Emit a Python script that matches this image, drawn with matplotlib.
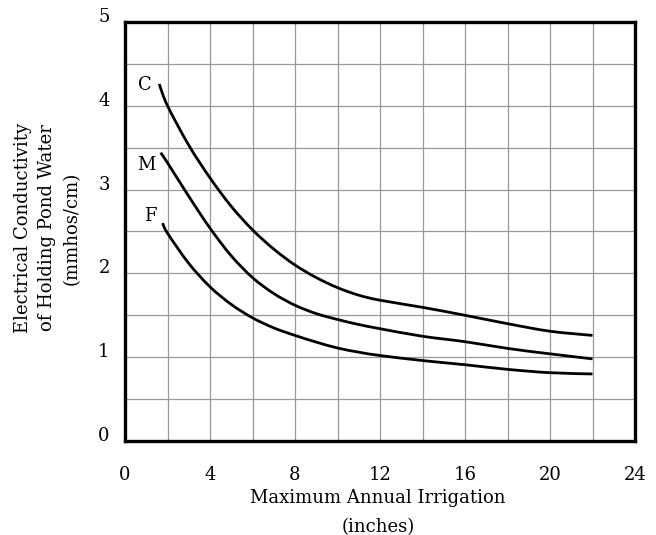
import matplotlib
matplotlib.use("Agg")
import matplotlib.pyplot as plt
import matplotlib.transforms as mtransforms
from matplotlib.path import Path
from matplotlib.patches import PathPatch
import numpy as np

# Data
x_c = [1.61, 2, 3, 4, 5, 6, 7, 8, 9, 10, 11, 12, 14, 16, 18, 20, 22]
y_c = [4.26, 4.00, 3.53, 3.14, 2.80, 2.52, 2.29, 2.10, 1.95, 1.83, 1.74, 1.68, 1.595, 1.50, 1.40, 1.31, 1.26]

x_m = [1.68, 2, 3, 4, 5, 6, 7, 8, 9, 10, 11, 12, 14, 16, 18, 20, 22]
y_m = [3.44, 3.32, 2.92, 2.54, 2.21, 1.95, 1.76, 1.62, 1.52, 1.45, 1.39, 1.34, 1.25, 1.185, 1.105, 1.04, 0.98]

x_f = [1.77, 2, 3, 4, 5, 6, 7, 8, 9, 10, 11, 12, 14, 16, 18, 20, 22]
y_f = [2.60, 2.48, 2.12, 1.84, 1.63, 1.47, 1.35, 1.26, 1.18, 1.11, 1.06, 1.02, 0.96, 0.91, 0.855, 0.815, 0.80]

curve_labels = ["C", "M", "F"]
label_x = [0.94, 1.0, 1.17]
label_y = [4.25, 3.29, 2.68]

x_ticks = [0, 4, 8, 12, 16, 20, 24]
y_ticks = [0, 1, 2, 3, 4, 5]

FONT = "DejaVu Serif"
plt.rcParams["font.family"] = [FONT]
FS = 13

fig = plt.figure(figsize=(6.56, 5.35), dpi=100)
ax = fig.add_axes([125/656, (535-441)/535, (635-125)/656, (441-22)/535])

ax.set_xlim(0, 24)
ax.set_ylim(0, 5)

ax.set_xticks(x_ticks)
ax.set_yticks(y_ticks)
ax.set_xticks(np.arange(0, 25, 2), minor=True)
ax.set_yticks(np.arange(0, 5.01, 0.5), minor=True)
ax.grid(True, which="both", color="#999999", linewidth=0.9)
ax.set_axisbelow(True)
ax.tick_params(which="both", length=0)
ax.tick_params(axis="x", pad=18, labelsize=FS)
ax.tick_params(axis="y", pad=11, labelsize=FS)

for lbl in ax.get_yticklabels():
    lbl.set_transform(lbl.get_transform() + mtransforms.ScaledTranslation(0, 5/72, fig.dpi_scale_trans))

for s in ax.spines.values():
    s.set_linewidth(2.4)
    s.set_color("black")


def smooth_path(xs, ys):
    """Catmull-Rom through the read points, expressed as cubic Bezier segments."""
    P = np.column_stack([xs, ys]).astype(float)
    n = len(P)
    verts = [P[0]]
    codes = [Path.MOVETO]
    for i in range(n - 1):
        p0 = P[i - 1] if i > 0 else P[i]
        p1 = P[i]
        p2 = P[i + 1]
        p3 = P[i + 2] if i + 2 < n else P[i + 1]
        c1 = p1 + (p2 - p0) / 6.0
        c2 = p2 - (p3 - p1) / 6.0
        verts += [c1, c2, p2]
        codes += [Path.CURVE4] * 3
    return Path(verts, codes)


for xs, ys in [(x_c, y_c), (x_m, y_m), (x_f, y_f)]:
    ax.add_patch(PathPatch(smooth_path(xs, ys), facecolor="none", edgecolor="black",
                           linewidth=2.0, capstyle="butt", transform=ax.transData))

for t, lx, ly in zip(curve_labels, label_x, label_y):
    ax.text(lx, ly, t, ha="center", va="center", fontsize=FS)

fig.text(378/656, 1 - 498/535, "Maximum Annual Irrigation", ha="center", va="center", fontsize=FS)
fig.text(378/656, 1 - 527/535, "(inches)", ha="center", va="center", fontsize=FS)

fig.text(23/656, 1 - 228/535, "Electrical Conductivity", ha="center", va="center", rotation=90, fontsize=FS)
fig.text(47/656, 1 - 228/535, "of Holding Pond Water", ha="center", va="center", rotation=90, fontsize=FS)
fig.text(72/656, 1 - 228/535, "(mmhos/cm)", ha="center", va="center", rotation=90, fontsize=FS)

fig.savefig("out.png", dpi=100)
